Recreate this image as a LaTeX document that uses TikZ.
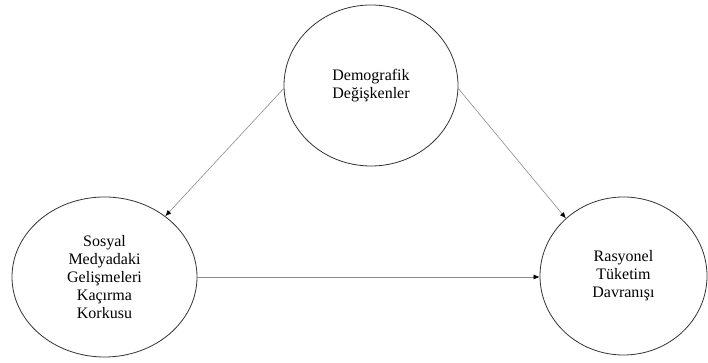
\documentclass[tikz,border=0pt]{standalone}
\usepackage{fontspec}
\setmainfont{Liberation Serif}
\usetikzlibrary{shapes.geometric,arrows.meta}
\begin{document}
\begin{tikzpicture}[x=1pt,y=1pt,
  construct/.style={ellipse,draw=black!80,line width=0.8pt,inner sep=0pt,
    align=center,font=\fontsize{16}{18}\selectfont},
  path/.style={draw=black!45,line width=0.6pt,
    -{Latex[length=6pt,width=5pt,color=black]}}]
\useasboundingbox (0,0) rectangle (708,363);
% constructs
\node[construct,minimum width=174pt,minimum height=161pt] (demo) at (371,277.5)
  {Demografik\\Değişkenler};
\node[construct,minimum width=185pt,minimum height=160pt] (fomo) at (104.5,86)
  {Sosyal\\Medyadaki\\Gelişmeleri\\Kaçırma\\Korkusu};
\node[construct,minimum width=167pt,minimum height=158pt] (rtd) at (623.5,87)
  {Rasyonel\\Tüketim\\Davranışı};
% relationships
\draw[path] (demo.182) -- (fomo.45);
\draw[path] (demo.358) -- (rtd.135);
\draw[path] (fomo.east) -- (rtd.west |- fomo.east);
\end{tikzpicture}
\end{document}
